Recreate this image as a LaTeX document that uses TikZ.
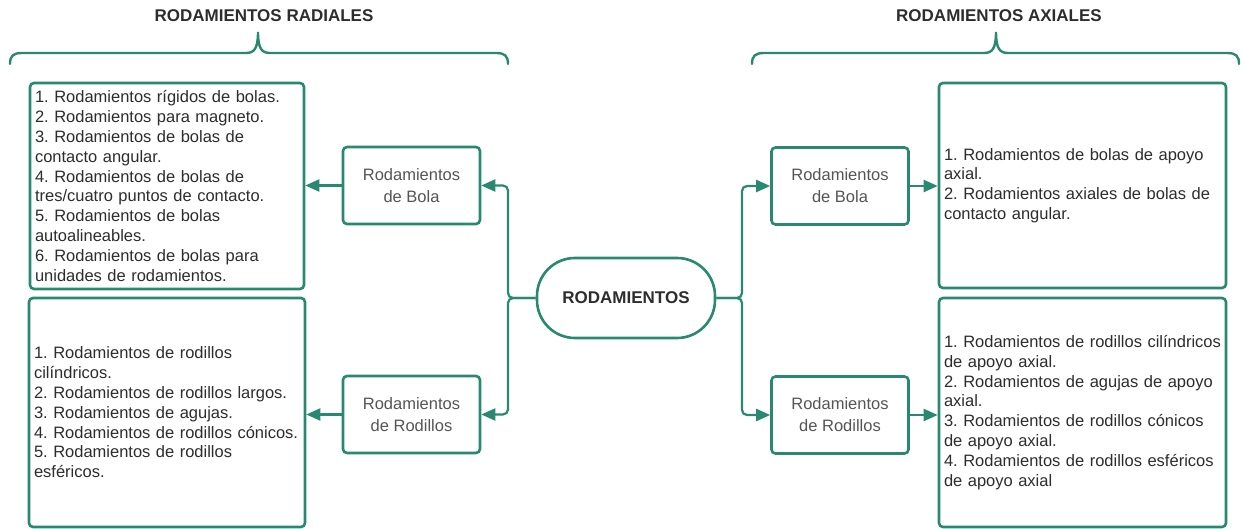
\documentclass[tikz,border=0pt]{standalone}
\usepackage{fontspec}
\setmainfont{Liberation Sans}
\usetikzlibrary{arrows.meta}
\definecolor{brgreen}{RGB}{40,136,112}
\definecolor{txtdark}{RGB}{45,45,45}
\definecolor{txtgray}{RGB}{85,85,85}
\frenchspacing
\hyphenpenalty=10000
\exhyphenpenalty=10000
\begin{document}
\begin{tikzpicture}[x=1pt,y=-1pt,
  box/.style={draw=brgreen, line width=2.6pt, rounded corners=4pt, fill=white},
  listbox/.style={box, align=left, inner xsep=5pt, inner ysep=0pt,
    font=\fontsize{16.5}{19.8}\selectfont, text=txtdark},
  catbox/.style={box, minimum width=137pt, minimum height=77pt, align=center,
    font=\fontsize{16.5}{22}\selectfont, text=txtgray},
  hub/.style={draw=brgreen, line width=2.6pt, rounded corners=38pt, fill=white,
    minimum width=178pt, minimum height=80pt,
    font=\bfseries\fontsize{17}{20}\selectfont, text=txtdark},
  heading/.style={font=\bfseries\fontsize{17}{20}\selectfont, text=txtdark},
  brace/.style={draw=brgreen, line width=2.4pt, line cap=round},
  link/.style={draw=brgreen, line width=2.2pt, rounded corners=5pt,
    -{Triangle[length=14pt,width=12pt]}}]

\useasboundingbox (0,0) rectangle (1244,529);

% headings and braces
\node[heading] (hrad) at (264,16) {RODAMIENTOS RADIALES};
\node[heading] (hax) at (999,16) {RODAMIENTOS AXIALES};

\draw[brace] (10,64) .. controls (10,56) and (13,53) .. (22,53) -- (246,53)
  .. controls (254,53) and (258,49) .. (258,32)
  .. controls (258,49) and (262,53) .. (270,53) -- (496,53)
  .. controls (505,53) and (508,56) .. (508,64);
\draw[brace] (752,64) .. controls (752,56) and (755,53) .. (764,53) -- (984,53)
  .. controls (992,53) and (996,49) .. (996,32)
  .. controls (996,49) and (1000,53) .. (1008,53) -- (1227,53)
  .. controls (1236,53) and (1239,56) .. (1239,64);

% central node
\node[hub] (root) at (626,298) {RODAMIENTOS};

% category boxes
\node[catbox] (lbola) at (411.5,185.5) {Rodamientos\\de Bola};
\node[catbox] (lrod) at (411.5,414.5) {Rodamientos\\de Rodillos};
\node[catbox] (rbola) at (840,186) {Rodamientos\\de Bola};
\node[catbox] (rrod) at (840,415) {Rodamientos\\de Rodillos};

% list boxes
\node[listbox, text width=264pt, minimum height=206pt] (lbl) at (167,186) {%
1. Rodamientos rígidos de bolas.\\
2. Rodamientos para magneto.\\
3. Rodamientos de bolas de\\
contacto angular.\\
4. Rodamientos de bolas de\\
tres/cuatro puntos de contacto.\\
5. Rodamientos de bolas\\
autoalineables.\\
6. Rodamientos de bolas para\\
unidades de rodamientos.};

\node[listbox, text width=266pt, minimum height=229pt] (lrl) at (167,412.5) {%
1. Rodamientos de rodillos\\
cilíndricos.\\
2. Rodamientos de rodillos largos.\\
3. Rodamientos de agujas.\\
4. Rodamientos de rodillos cónicos.\\
5. Rodamientos de rodillos\\
esféricos.};

\node[listbox, text width=277pt, minimum height=205pt] (rbl) at (1082.5,185.5) {%
1. Rodamientos de bolas de apoyo\\
axial.\\
2. Rodamientos axiales de bolas de\\
contacto angular.};

\node[listbox, text width=277pt, minimum height=229pt] (rrl) at (1082.5,412.5) {%
1. Rodamientos de rodillos cilíndricos\\
de apoyo axial.\\
2. Rodamientos de agujas de apoyo\\
axial.\\
3. Rodamientos de rodillos cónicos\\
de apoyo axial.\\
4. Rodamientos de rodillos esféricos\\
de apoyo axial};

% branch junctions
\coordinate (jl) at (508,298);
\coordinate (jr) at (742,298);

% connectors
\draw[link] (root.west) -- (jl) |- (lbola.east);
\draw[link] (root.west) -- (jl) |- (lrod.east);
\draw[link] (root.east) -- (jr) |- (rbola.west);
\draw[link] (root.east) -- (jr) |- (rrod.west);

\draw[link] (lbola.west) -- (lbl.east |- lbola.west);
\draw[link] (lrod.west) -- (lrl.east |- lrod.west);
\draw[link] (rbola.east) -- (rbl.west |- rbola.east);
\draw[link] (rrod.east) -- (rrl.west |- rrod.east);

\end{tikzpicture}
\end{document}
